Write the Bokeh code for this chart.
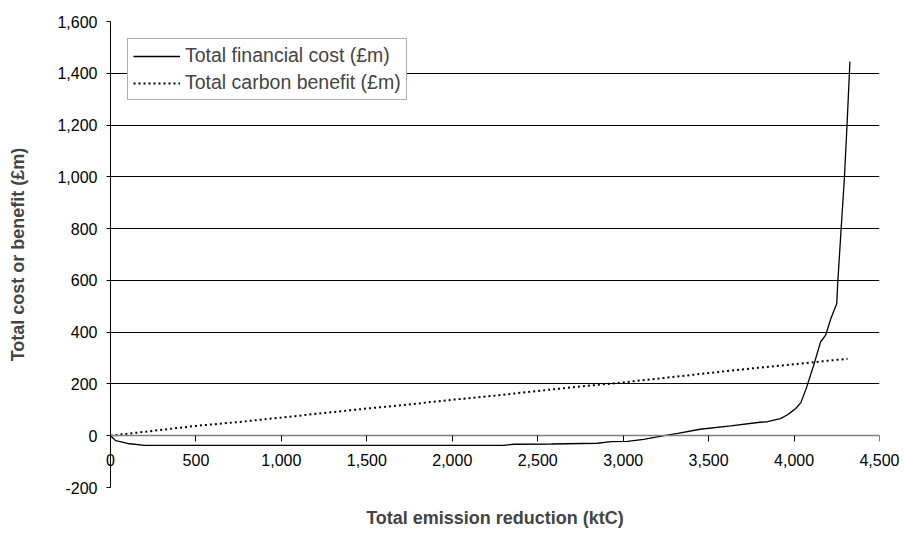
from bokeh.plotting import figure
from bokeh.models import (Range1d, FixedTicker, NumeralTickFormatter, Legend,
                          LegendItem, Title, LinearAxis)
from bokeh.embed import file_html
from bokeh.resources import INLINE

# ---- data ----
cost_x = [0, 30, 100, 200, 500, 1000, 1500, 2000, 2300, 2360, 2580, 2850,
          2930, 3025, 3120, 3240, 3320, 3450, 3630, 3800, 3845, 3920, 3960,
          3990, 4010, 4040, 4070, 4115, 4155, 4185, 4215, 4250, 4255, 4275,
          4295, 4310, 4327]
cost_y = [0, -19, -30, -37, -37, -37, -37, -37, -37, -33, -32, -29,
          -23, -22, -14, 0, 9, 25, 38, 52, 54, 66, 80,
          95, 105, 128, 180, 272, 362, 389, 452, 511, 584, 794,
          1000, 1200, 1445]

benefit_x = [0, 250, 500, 750, 1000, 1250, 1500, 1750, 2000, 2250, 2500,
             2750, 3000, 3250, 3500, 3750, 4000, 4200, 4313]
benefit_y = [0, 19, 38, 53, 70, 88, 105, 121, 139, 155, 173, 190, 206,
             224, 242, 260, 276, 290, 297]

x_ticks = [0, 500, 1000, 1500, 2000, 2500, 3000, 3500, 4000, 4500]
y_ticks = [-200, 0, 200, 400, 600, 800, 1000, 1200, 1400, 1600]

series_names = ["Total financial cost (\u00a3m)", "Total carbon benefit (\u00a3m)"]
x_title = "Total emission reduction (ktC)"
y_title = "Total cost or benefit (\u00a3m)"

FONT = "Liberation Sans"
TICK_SIZE = "16px"
TITLE_SIZE = "18px"

W, H = 904, 545
p = figure(width=W, height=H, output_backend="svg", toolbar_location=None,
           x_range=Range1d(0, 4500), y_range=Range1d(-200, 1600),
           min_border_left=110, min_border_right=W - 879, min_border_top=21,
           min_border_bottom=H - 487)
p.outline_line_color = None
p.background_fill_color = "white"
p.border_fill_color = "white"

# x axis line + ticks crossing at y = 0
xa = p.xaxis[0]
xa.fixed_location = 0
xa.ticker = FixedTicker(ticks=x_ticks)
xa.axis_line_color = "#808080"
xa.axis_line_width = 1.5
xa.major_tick_line_color = "black"
xa.major_tick_in = 0
xa.major_tick_out = 6
xa.minor_tick_line_color = None
xa.major_label_text_color = None

# x tick labels: a second axis below the frame, labels pulled up under y = 0
lab = LinearAxis(ticker=FixedTicker(ticks=x_ticks),
                 formatter=NumeralTickFormatter(format="0,0"))
lab.axis_line_color = None
lab.major_tick_line_color = None
lab.minor_tick_line_color = None
lab.major_tick_in = 0
lab.major_tick_out = 0
lab.major_label_standoff = -34
lab.major_label_text_font = FONT
lab.major_label_text_font_size = TICK_SIZE
lab.major_label_text_color = "black"
p.add_layout(lab, "below")

ya = p.yaxis[0]
ya.ticker = FixedTicker(ticks=y_ticks)
ya.formatter = NumeralTickFormatter(format="0,0")
ya.axis_line_color = "black"
ya.major_tick_line_color = "black"
ya.major_tick_in = 0
ya.major_tick_out = 4
ya.minor_tick_line_color = None
ya.major_label_standoff = 9
ya.major_label_text_font = FONT
ya.major_label_text_font_size = TICK_SIZE
ya.major_label_text_color = "black"
ya.axis_label = y_title
ya.axis_label_text_font = FONT
ya.axis_label_text_font_style = "bold"
ya.axis_label_text_font_size = TITLE_SIZE
ya.axis_label_standoff = 26

p.xgrid.visible = False
p.ygrid.ticker = FixedTicker(ticks=[t for t in y_ticks if t > 0])
p.ygrid.grid_line_color = "black"
p.ygrid.grid_line_width = 1

p.add_layout(Title(text=x_title, align="center", text_font=FONT,
                   text_font_style="bold", text_font_size=TITLE_SIZE,
                   standoff=36), "below")

cost = p.line(cost_x, cost_y, line_color="black", line_width=1.3)
ben = p.line(benefit_x, benefit_y, line_color="black", line_width=2,
             line_dash="2 3")

legend = Legend(items=[LegendItem(label=series_names[0], renderers=[cost]),
                       LegendItem(label=series_names[1], renderers=[ben])],
                location="top_left")
legend.margin = 17
legend.padding = 5
legend.spacing = 4
legend.glyph_width = 47
legend.glyph_height = 22
legend.label_standoff = 5
legend.label_text_font = FONT
legend.label_text_font_size = "19.5px"
legend.label_height = 22
legend.border_line_color = "#606060"
legend.border_line_width = 1
legend.background_fill_alpha = 1
p.add_layout(legend, "center")

open("out.html", "w").write(file_html(p, INLINE))
